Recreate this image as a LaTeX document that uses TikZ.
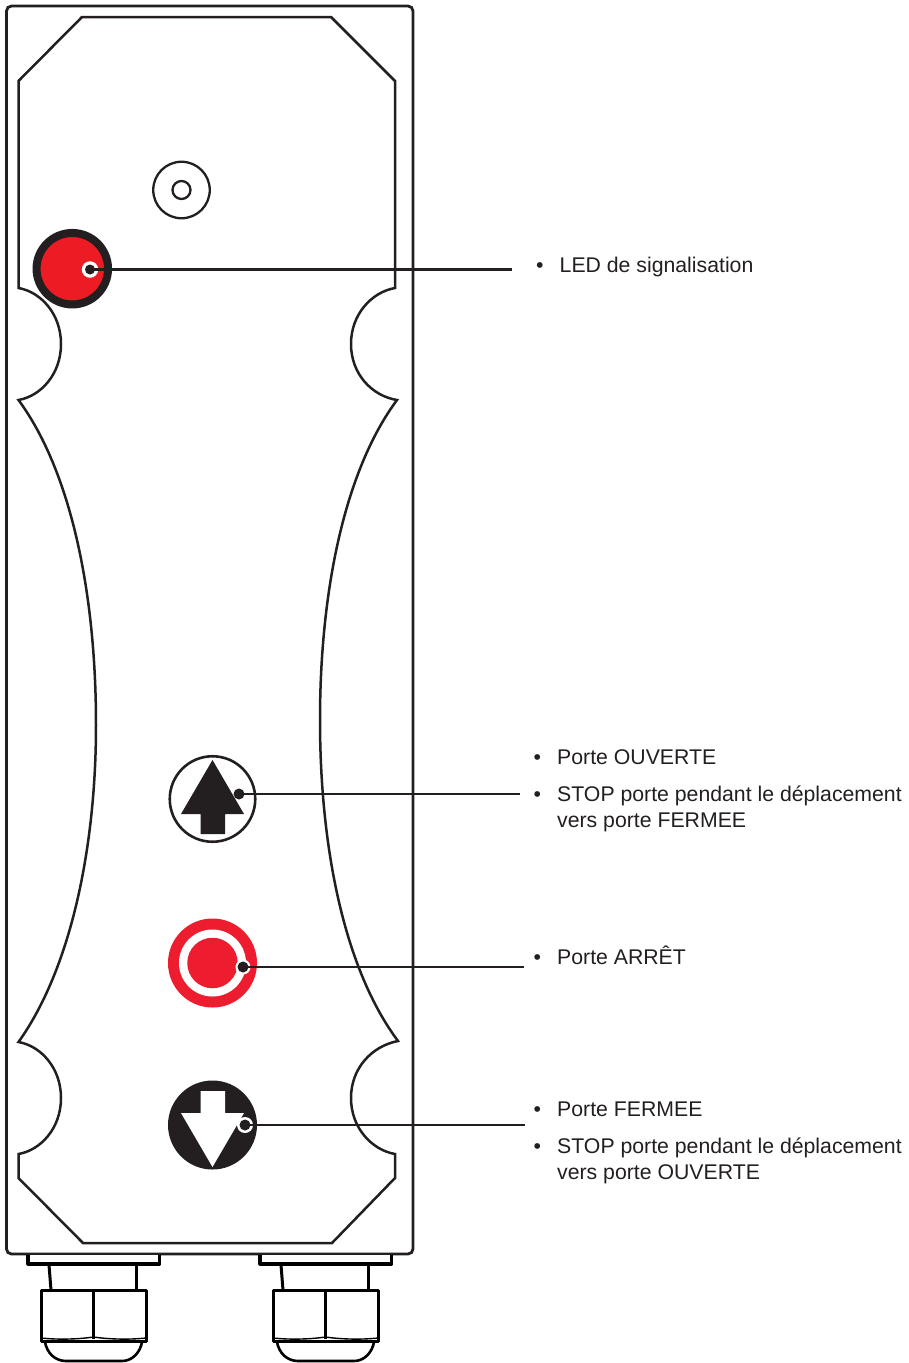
\documentclass[tikz,border=0pt]{standalone}
\usepackage{fontspec}
\setmainfont{Liberation Sans}
\definecolor{ink}{HTML}{231F20}
\definecolor{ledred}{HTML}{ED1C24}
\definecolor{btnred}{HTML}{ED1C2E}
\tikzset{
  outline/.style={draw=ink,line width=2.5pt,line join=miter},
  thin part/.style={draw=black,line width=2.6pt},
  heavy/.style={draw=black,line width=3.2pt,line join=round},
  disc/.style={circle,inner sep=0pt,outer sep=0pt},
  dotmark/.style={disc,fill=ink,minimum size=11pt},
  leader/.style={draw=ink,line width=2.4pt},
  label/.style={anchor=base west,inner sep=0pt,text=ink,font=\fontsize{21.25}{25}\selectfont},
  glandpart/.pic={
    \draw[heavy,fill=white] (28,1255) -- (28,1264) -- (159.5,1264) -- (159.5,1255);
    \draw[draw=black,line width=2.4pt] (27,1263.5) -- (160.5,1263.5);
    \draw[thin part,line width=3pt] (49,1265) -- (51,1290);
    \draw[thin part,line width=3pt] (136,1265) -- (136,1290);
    \draw[heavy,line width=3pt] (41.5,1290.5) rectangle (146,1341);
    \draw[thin part] (93.5,1290) -- (93.5,1339);
    \draw[thin part,line width=1.4pt] (41,1338) .. controls (60,1340) and (80,1339) .. (93.5,1337) .. controls (107,1339) and (127,1340) .. (146,1338);
    \draw[thin part] (45,1342) .. controls (47,1353) and (55,1361) .. (66,1361) -- (122,1361) .. controls (132,1361) and (140,1353) .. (142,1342);
  },
}
\begin{document}
\begin{tikzpicture}[x=1pt,y=-1pt]
\useasboundingbox (0,0) rectangle (908,1363);
% housing
\draw[outline,line width=2.8pt,rounded corners=5pt] (6.5,6) rectangle (413,1254);
% inner outline
\draw[outline]
  (82,17) -- (331,17) -- (395,81) -- (395,288)
  .. controls (372,292) and (351,314) .. (351,344)
  .. controls (351,374) and (372,396) .. (397,400)
  .. controls (345,470) and (320,590) .. (320,720)
  .. controls (320,850) and (345,970) .. (398,1041)
  .. controls (372,1046) and (351,1068) .. (351,1098)
  .. controls (351,1128) and (372,1150) .. (395,1154)
  -- (395,1178) -- (332,1243) -- (83,1243) -- (18.5,1178) -- (18.5,1154)
  .. controls (41,1150) and (61,1128) .. (61,1098)
  .. controls (61,1068) and (41,1046) .. (18.5,1042)
  .. controls (70,970) and (96,850) .. (96,725)
  .. controls (96,590) and (70,470) .. (18.5,400)
  .. controls (41,396) and (61,374) .. (61,344)
  .. controls (61,314) and (41,292) .. (18.5,288)
  -- (18.5,81) -- cycle;
% glands
\pic at (0,0) {glandpart};
\pic at (232,0) {glandpart};
% screw
\node[disc,draw=ink,line width=2.3pt,minimum size=56.5pt] (screw) at (181.5,190) {};
\node[disc,draw=ink,line width=2.3pt,minimum size=18pt] (screwhole) at (181.5,190) {};
% LED
\node[disc,fill=ledred,draw=ink,line width=8pt,minimum size=71.5pt] (led) at (72.3,268.7) {};
\node[disc,fill=white,minimum size=16.5pt] (ledhalo) at (90,269.5) {};
\node[dotmark,minimum size=10pt] (leddot) at (90,269.5) {};
\coordinate (ledend) at (512,269.5);
\draw[leader] (leddot.center) -- (ledend);
% open button
\node[disc,draw=ink,line width=2.6pt,minimum size=85.5pt] (openbtn) at (212.5,799) {};
\fill[ink] (212.5,760) -- (244,814) -- (225,814) -- (225,834) -- (200.5,834) -- (200.5,814) -- (181,814) -- cycle;
\node[dotmark] (opendot) at (239,794) {};
\coordinate (openend) at (520,794);
\draw[leader] (opendot.center) -- (openend);
% stop button
\node[disc,fill=btnred,minimum size=89pt] (stopbtn) at (212.5,963) {};
\node[disc,fill=white,minimum size=67pt] (stopring) at (212.5,963) {};
\node[disc,fill=btnred,minimum size=50.5pt] (stopcore) at (212.5,963) {};
\node[disc,fill=white,minimum size=15pt] (stophalo) at (243,967) {};
\node[dotmark] (stopdot) at (243,967) {};
\coordinate (stopend) at (524,967);
\draw[leader] (stopdot.center) -- (stopend);
% close button
\node[disc,fill=ink,minimum size=89pt] (closebtn) at (212.5,1125) {};
\fill[white] (212.5,1167) -- (244,1113) -- (225,1113) -- (225,1091) -- (200.5,1091) -- (200.5,1113) -- (181,1113) -- cycle;
\node[disc,fill=white,minimum size=16pt] (closehalo) at (245,1125) {};
\node[dotmark] (closedot) at (245,1125) {};
\coordinate (closeend) at (525,1125);
\draw[leader] (closedot.center) -- (closeend);
% labels
\node[label] (b1) at (536,272.5) {•};
\node[label] (t1) at (559.5,272.5) {LED de signalisation};
\node[label] (b2) at (533.5,764.5) {•};
\node[label] (t2) at (557,764.5) {Porte OUVERTE};
\node[label] (b3) at (533.5,801.5) {•};
\node[label] (t3) at (557,801.5) {STOP porte pendant le déplacement};
\node[label] (t4) at (557,827.5) {vers porte FERMEE};
\node[label] (b5) at (533.5,964.5) {•};
\node[label] (t5) at (557,964.5) {Porte ARRÊT};
\node[label] (b6) at (533.5,1116.5) {•};
\node[label] (t6) at (557,1116.5) {Porte FERMEE};
\node[label] (b7) at (533.5,1153.5) {•};
\node[label] (t7) at (557,1153.5) {STOP porte pendant le déplacement};
\node[label] (t8) at (557,1179.5) {vers porte OUVERTE};
\end{tikzpicture}
\end{document}
